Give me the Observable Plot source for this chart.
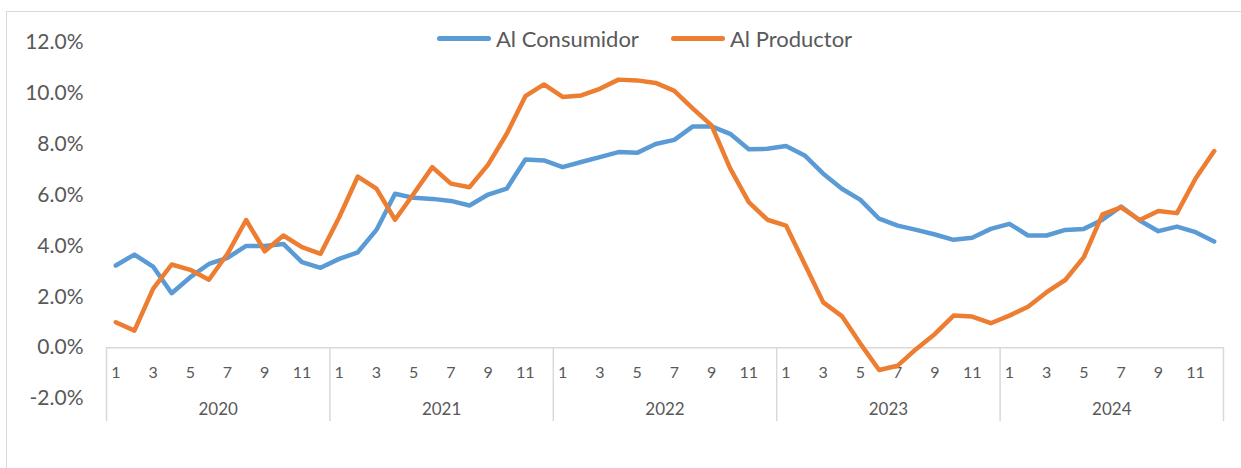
<!DOCTYPE html>
<html>
<head>
<meta charset="utf-8">
<script src="https://cdn.jsdelivr.net/npm/d3@7"></script>
<script src="https://cdn.jsdelivr.net/npm/@observablehq/plot@0.6"></script>
<style>
  html, body { margin: 0; padding: 0; background: #fff; overflow: hidden; }
  #wrap { position: relative; width: 1241px; height: 468px; font-family: Lato, "Open Sans", sans-serif; color: #595959; }
  #frame { position: absolute; left: 6px; top: 11px; width: 1400px; height: 600px; border: 1.5px solid #d9d9d9; pointer-events: none; }
  .leg { position: absolute; top: 25px; display: flex; align-items: center; font-size: 22px; color: #595959; white-space: nowrap; }
  .sw { display: inline-block; width: 54px; height: 5px; border-radius: 3px; margin-right: 5px; }
</style>
</head>
<body>
<div id="wrap">
  <div id="chart"></div>
  <div class="leg" style="left:437px"><span class="sw" style="background:#5B9BD5"></span>Al Consumidor</div>
  <div class="leg" style="left:671px"><span class="sw" style="background:#ED7D31"></span>Al Productor</div>
  <div id="frame"></div>
</div>
<script>
const years = ["2020", "2021", "2022", "2023", "2024"];
const monthLabels = ["1", "3", "5", "7", "9", "11"];
const yTicks = [-2, 0, 2, 4, 6, 8, 10, 12];
const seriesNames = ["Al Consumidor", "Al Productor"];

const consumidor = [
  3.23, 3.66, 3.19, 2.14, 2.77, 3.29, 3.53, 4.00, 4.00, 4.08, 3.36, 3.14,
  3.49, 3.75, 4.63, 6.05, 5.89, 5.85, 5.77, 5.59, 6.02, 6.25, 7.40, 7.36,
  7.10, 7.30, 7.49, 7.69, 7.66, 8.01, 8.17, 8.70, 8.70, 8.41, 7.80, 7.82,
  7.93, 7.56, 6.84, 6.25, 5.81, 5.07, 4.80, 4.63, 4.45, 4.24, 4.32, 4.67,
  4.87, 4.41, 4.41, 4.63, 4.67, 5.03, 5.55, 5.00, 4.58, 4.76, 4.54, 4.17
];
const productor = [
  1.00, 0.67, 2.31, 3.27, 3.06, 2.67, 3.69, 5.02, 3.79, 4.41, 3.95, 3.69,
  5.13, 6.73, 6.25, 5.03, 6.05, 7.10, 6.45, 6.31, 7.20, 8.41, 9.89, 10.35,
  9.86, 9.92, 10.18, 10.54, 10.51, 10.41, 10.10, 9.40, 8.74, 7.05, 5.72, 5.03,
  4.80, 3.29, 1.78, 1.24, 0.15, -0.88, -0.71, -0.05, 0.54, 1.26, 1.22, 0.96,
  1.26, 1.61, 2.18, 2.66, 3.56, 5.24, 5.52, 5.02, 5.37, 5.29, 6.65, 7.73
];
const colors = ["#5B9BD5", "#ED7D31"];

const data = [];
consumidor.forEach((v, i) => data.push({i, value: v, serie: seriesNames[0]}));
productor.forEach((v, i) => data.push({i, value: v, serie: seriesNames[1]}));

const nMonths = years.length * 12;
const monthTicks = [];
years.forEach((y, k) => monthLabels.forEach(m => monthTicks.push({i: k * 12 + (+m) - 1, label: m})));
const yearTicks = years.map((y, k) => ({i: k * 12 + 5.5, label: y}));
const separators = d3.range(0, years.length + 1).map(k => k * 12 - 0.5);

const chart = Plot.plot({
  width: 1241,
  height: 468,
  marginLeft: 106,
  marginRight: 18,
  marginTop: 42,
  marginBottom: 70,
  style: { fontFamily: "Lato, 'Open Sans', sans-serif", color: "#595959", background: "transparent", overflow: "visible" },
  x: { domain: [-0.5, nMonths - 0.5], axis: null },
  y: { domain: [-2, 12], axis: null },
  color: { domain: seriesNames, range: colors },
  marks: [
    Plot.axisY({ ticks: yTicks, tickFormat: d => d.toFixed(1) + "%", tickSize: 0, tickPadding: 23, fontSize: 21, fill: "#595959", label: null }),
    Plot.ruleY([0], { x1: -0.5, x2: nMonths - 0.5, stroke: "#d9d9d9", strokeWidth: 1.5 }),
    Plot.ruleX(separators, { x: d => d, y1: 0, y2: -2.91, stroke: "#d9d9d9", strokeWidth: 1.5 }),
    Plot.text(monthTicks, { x: "i", y: () => 0, dy: 25, text: "label", fontSize: 16, fill: "#595959" }),
    Plot.text(yearTicks, { x: "i", y: () => 0, dy: 62, text: "label", fontSize: 17, fill: "#595959" }),
    Plot.lineY(data, { x: "i", y: "value", z: "serie", stroke: "serie", strokeWidth: 4.5, strokeLinejoin: "round", strokeLinecap: "round" })
  ]
});
document.getElementById("chart").appendChild(chart);
</script>
</body>
</html>
